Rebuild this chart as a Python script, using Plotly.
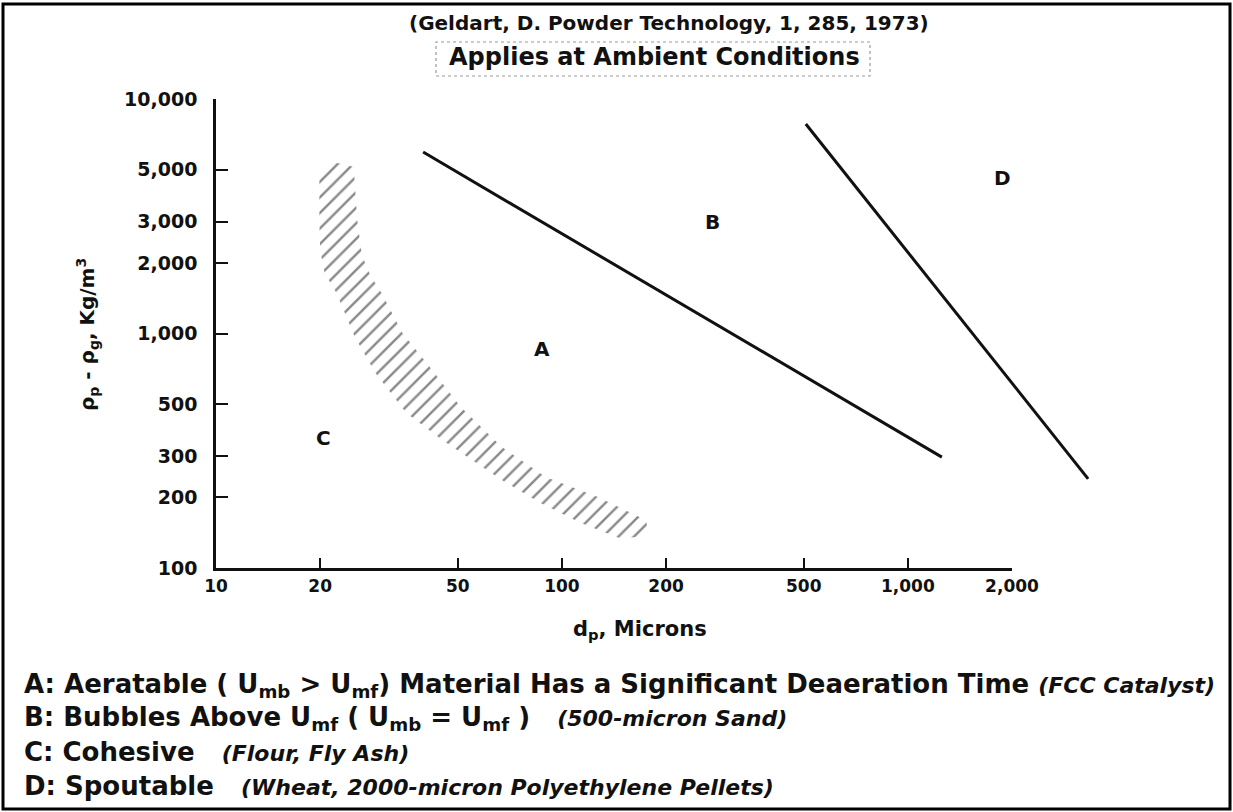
import math
import plotly.graph_objects as go

# ---- data -------------------------------------------------------------
# Group boundaries (particle size d_p in microns, density difference kg/m3)
ab_boundary_dp = [39.7, 1254]
ab_boundary_rho = [5940, 297]
bd_boundary_dp = [507, 3320]
bd_boundary_rho = [7820, 240]

# Hatched A/C transition band: outer edge (top -> bottom), then inner edge (bottom -> top)
band_outer_dp = [19.9, 19.9, 20.0, 20.6, 22.3, 23.4, 25.2, 28.9, 35.5, 45.2, 55.0, 67.0, 87.0, 113, 147, 169, 177]
band_outer_rho = [4980, 2960, 2270, 1810, 1490, 1260, 966, 679, 458, 351, 289, 237, 189, 156, 134, 136, 145]
band_inner_dp = [175, 127, 90.0, 67.0, 51.0, 41.5, 34.6, 30.1, 27.9, 26.4, 25.6, 25.3, 25.0, 23.3, 21.4, 19.9]
band_inner_rho = [160, 201, 244, 328, 486, 720, 1005, 1490, 1776, 2162, 3048, 3970, 5130, 5280, 5390, 4980]

# Region letters
group_labels = ["A", "B", "C", "D"]
group_label_dp = [87.7, 273, 20.5, 1875]
group_label_rho = [859, 2990, 358, 4600]

# Axis ticks
x_tick_vals = [10, 20, 50, 100, 200, 500, 1000, 2000]
x_tick_text = ["10", "20", "50", "100", "200", "500", "1,000", "2,000"]
y_tick_vals = [100, 200, 300, 500, 1000, 2000, 3000, 5000, 10000]
y_tick_text = ["100", "200", "300", "500", "1,000", "2,000", "3,000", "5,000", "10,000"]

# ---- layout geometry (pixels) -----------------------------------------
W, H = 1233, 812
L, T = 216, 99                 # plot origin (left, top)
X_AXIS_END = 1012              # where the drawn x axis stops (2,000 microns)
B = 568                        # plot bottom
DECADE = (X_AXIS_END - L) / math.log10(2000 / 10)
R = 1098                       # data area extends past the axis end
X_HI = 1 + (R - L) / DECADE


def px(x):
    return (x - L) / (R - L)


def py(y):
    return (B - y) / (B - T)


FONT = "DejaVu Sans, Verdana, sans-serif"
INK = "#111111"


def bold(size):
    return dict(family=FONT, size=size, color=INK, weight="bold")


def example(txt):
    """Italic, slightly smaller example materials in the descriptions."""
    return '<span style="font-size:22px"><i>' + txt + '</i></span>'


fig = go.Figure()

# hatched transition band
fig.add_trace(go.Scatter(
    x=band_outer_dp + band_inner_dp,
    y=band_outer_rho + band_inner_rho,
    xaxis="x2", yaxis="y",
    mode="lines", fill="toself",
    line=dict(width=0, color="rgba(0,0,0,0)"),
    fillcolor="rgba(0,0,0,0)",
    fillpattern=dict(shape="/", fgcolor="#141414", bgcolor="rgba(0,0,0,0)",
                     size=11, solidity=0.22),
    hoverinfo="skip", showlegend=False,
))

# A/B boundary
fig.add_trace(go.Scatter(
    x=ab_boundary_dp, y=ab_boundary_rho, xaxis="x2", yaxis="y",
    mode="lines", line=dict(color=INK, width=3), showlegend=False,
))

# B/D boundary (runs past the end of the drawn axis)
fig.add_trace(go.Scatter(
    x=bd_boundary_dp, y=bd_boundary_rho, xaxis="x", yaxis="y",
    mode="lines", line=dict(color=INK, width=3), showlegend=False,
))

annotations = []
for lab, xv, yv in zip(group_labels, group_label_dp, group_label_rho):
    annotations.append(dict(
        x=math.log10(xv), y=math.log10(yv), xref="x2", yref="y",
        text=lab, showarrow=False, font=bold(20),
    ))

# titles
annotations.append(dict(
    x=px(669), y=py(23), xref="paper", yref="paper",
    text="(Geldart, D. Powder Technology, 1, 285, 1973)", showarrow=False,
    xanchor="center", yanchor="middle", font=bold(20),
))
annotations.append(dict(
    x=px(654), y=py(57), xref="paper", yref="paper",
    text="Applies at Ambient Conditions", showarrow=False,
    xanchor="center", yanchor="middle", font=bold(24),
))

# axis titles
annotations.append(dict(
    x=px(640), y=py(630), xref="paper", yref="paper",
    text="d<sub>p</sub>, Microns", showarrow=False,
    xanchor="center", yanchor="middle", font=bold(21),
))
annotations.append(dict(
    x=px(87), y=py(335), xref="paper", yref="paper",
    text="ρ<sub>p</sub> - ρ<sub>g</sub>, Kg/m<sup>3</sup>", showarrow=False,
    textangle=-90, xanchor="center", yanchor="middle", font=bold(20),
))

# group descriptions
sp = "&nbsp;"
footer_lines = [
    ("A: Aeratable ( U<sub>mb</sub> &gt; U<sub>mf</sub>) Material Has a Significant "
     "Deaeration Time " + example("(FCC Catalyst)"), 685),
    ("B: Bubbles Above U<sub>mf</sub> ( U<sub>mb</sub> = U<sub>mf</sub> )" + sp * 3 +
     example("(500-micron Sand)"), 718),
    ("C: Cohesive" + sp * 3 + example("(Flour, Fly Ash)"), 752),
    ("D: Spoutable" + sp * 3 + example("(Wheat, 2000-micron Polyethylene Pellets)"), 786),
]
for txt, yy in footer_lines:
    annotations.append(dict(
        x=px(22), y=py(yy), xref="paper", yref="paper",
        text=txt, showarrow=False, xanchor="left", yanchor="middle",
        font=bold(26),
    ))

shapes = [
    # dotted box round the conditions note
    dict(type="rect", xref="paper", yref="paper",
         x0=px(436), x1=px(870), y0=py(76), y1=py(42),
         line=dict(color="#9a9a9a", width=1.2, dash="dot")),
    # outer frame
    dict(type="rect", xref="paper", yref="paper",
         x0=px(3), x1=px(1230), y0=py(809), y1=py(4),
         line=dict(color="#000000", width=3)),
]

fig.update_layout(
    width=W, height=H,
    margin=dict(l=L, r=W - R, t=T, b=H - B, pad=0),
    paper_bgcolor="white", plot_bgcolor="rgba(0,0,0,0)",
    showlegend=False,
    annotations=annotations,
    shapes=shapes,
    xaxis=dict(type="log", range=[1, X_HI], domain=[0, 1], visible=False,
               anchor="y", fixedrange=True),
    xaxis2=dict(type="log", range=[1, math.log10(2000)],
                domain=[0, (X_AXIS_END - L) / (R - L)], anchor="y",
                showline=True, linecolor=INK, linewidth=2.5,
                ticks="inside", ticklen=10, tickwidth=2, tickcolor=INK,
                tickvals=x_tick_vals, ticktext=x_tick_text,
                ticklabelstandoff=1, tickfont=bold(17),
                showgrid=False, zeroline=False),
    yaxis=dict(type="log", range=[2, 4], domain=[0, 1], anchor="x",
               showline=True, linecolor=INK, linewidth=2.5,
               ticks="inside", ticklen=12, tickwidth=2, tickcolor=INK,
               tickvals=y_tick_vals, ticktext=y_tick_text,
               ticklabelstandoff=12, tickfont=bold(19),
               showgrid=False, zeroline=False),
)

fig.write_html("out.html")
